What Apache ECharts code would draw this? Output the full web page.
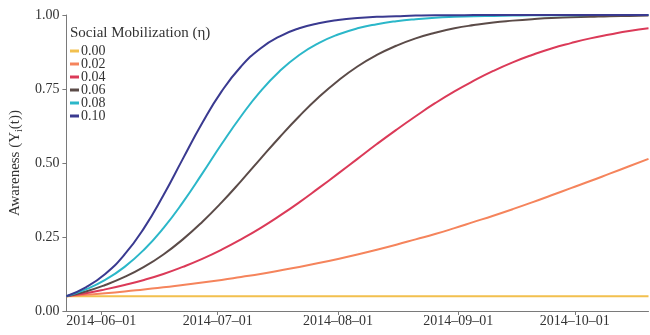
<!DOCTYPE html>
<html>
<head>
<meta charset="utf-8">
<script src="https://cdn.jsdelivr.net/npm/echarts@6/dist/echarts.min.js"></script>
<style>
  html, body { margin: 0; padding: 0; background: #fff; }
  #chart { width: 650px; height: 335px; }
</style>
</head>
<body>
<div id="chart"></div>
<script>
// Sample dates (every 5 days)
const dates = [
  '2014-05-23', '2014-05-28', '2014-06-02', '2014-06-07', '2014-06-12', '2014-06-17',
  '2014-06-22', '2014-06-27', '2014-07-02', '2014-07-07', '2014-07-12', '2014-07-17',
  '2014-07-22', '2014-07-27', '2014-08-01', '2014-08-06', '2014-08-11', '2014-08-16',
  '2014-08-21', '2014-08-26', '2014-08-31', '2014-09-05', '2014-09-10', '2014-09-15',
  '2014-09-20', '2014-09-25', '2014-09-30', '2014-10-05', '2014-10-10', '2014-10-15',
  '2014-10-20'
];

// Awareness per social mobilization level
const eta000 = [
  0.050, 0.050, 0.050, 0.050, 0.050, 0.050, 0.050, 0.050, 0.050, 0.050, 0.050,
  0.050, 0.050, 0.050, 0.050, 0.050, 0.050, 0.050, 0.050, 0.050, 0.050, 0.050,
  0.050, 0.050, 0.050, 0.050, 0.050, 0.050, 0.050, 0.050, 0.050
];
const eta002 = [
  0.050, 0.055, 0.060, 0.066, 0.073, 0.080, 0.088, 0.096, 0.105, 0.115, 0.125,
  0.137, 0.149, 0.162, 0.176, 0.191, 0.207, 0.224, 0.242, 0.260, 0.280, 0.301,
  0.322, 0.344, 0.367, 0.391, 0.415, 0.439, 0.464, 0.489, 0.514
];
const eta004 = [
  0.050, 0.060, 0.073, 0.088, 0.105, 0.125, 0.149, 0.176, 0.207, 0.242, 0.280,
  0.322, 0.367, 0.415, 0.464, 0.514, 0.564, 0.612, 0.658, 0.702, 0.742, 0.778,
  0.811, 0.840, 0.865, 0.887, 0.905, 0.921, 0.934, 0.946, 0.955
];
const eta006 = [
  0.050, 0.066, 0.088, 0.115, 0.149, 0.191, 0.242, 0.301, 0.367, 0.439, 0.514,
  0.588, 0.658, 0.722, 0.778, 0.826, 0.865, 0.896, 0.921, 0.940, 0.955, 0.966,
  0.975, 0.981, 0.986, 0.990, 0.992, 0.994, 0.996, 0.997, 0.998
];
const eta008 = [
  0.050, 0.073, 0.105, 0.149, 0.207, 0.280, 0.367, 0.464, 0.564, 0.658, 0.742,
  0.811, 0.865, 0.905, 0.934, 0.955, 0.969, 0.979, 0.986, 0.991, 0.994, 0.996,
  0.997, 0.998, 0.999, 0.999, 0.999, 1.000, 1.000, 1.000, 1.000
];
const eta010 = [
  0.050, 0.080, 0.125, 0.191, 0.280, 0.391, 0.514, 0.635, 0.742, 0.826, 0.887,
  0.928, 0.955, 0.972, 0.983, 0.990, 0.994, 0.996, 0.998, 0.999, 0.999, 1.000,
  1.000, 1.000, 1.000, 1.000, 1.000, 1.000, 1.000, 1.000, 1.000
];

const seriesNames = ['0.00', '0.02', '0.04', '0.06', '0.08', '0.10'];
const seriesValues = [eta000, eta002, eta004, eta006, eta008, eta010];
const seriesColors = ['#f2c04e', '#f5845c', '#db3a58', '#5b4b48', '#2bb7c9', '#3a3a90'];

// Axis tick positions (first of each month)
const xTicks = ['2014-06-01', '2014-07-01', '2014-08-01', '2014-09-01', '2014-10-01'];

const FONT = "'Liberation Serif', 'DejaVu Serif', serif";

function toTime(s) {
  const p = s.split('-').map(Number);
  return new Date(p[0], p[1] - 1, p[2]).getTime();
}
function pad(n) { return (n < 10 ? '0' : '') + n; }
function fmtDate(v) {
  const d = new Date(v);
  return d.getFullYear() + '\u2013' + pad(d.getMonth() + 1) + '\u2013' + pad(d.getDate());
}

const chart = echarts.init(document.getElementById('chart'), null, { renderer: 'canvas' });

const axisLineStyle = { color: '#7a7a7a', width: 1 };

chart.setOption({
  animation: false,
  backgroundColor: '#ffffff',
  textStyle: { fontFamily: FONT },
  title: {
    text: 'Social Mobilization (\u03b7)',
    left: 70,
    top: 26,
    padding: 0,
    textStyle: { fontFamily: FONT, fontSize: 15, fontWeight: 'normal', color: '#333' }
  },
  legend: {
    orient: 'vertical',
    left: 70,
    top: 44,
    padding: 0,
    icon: 'rect',
    itemWidth: 9,
    itemHeight: 3,
    itemGap: -1,
    textStyle: { fontFamily: FONT, fontSize: 14, color: '#333', lineHeight: 12, padding: [0, 0, 0, -3] },
    data: seriesNames
  },
  grid: { left: 62, right: 1.5, top: 15, bottom: 24, containLabel: false },
  xAxis: {
    type: 'value',
    min: toTime(dates[0]),
    max: toTime(dates[dates.length - 1]),
    splitLine: { show: false },
    axisLine: { lineStyle: axisLineStyle },
    axisTick: { show: true, length: 4, lineStyle: axisLineStyle, customValues: xTicks.map(toTime) },
    axisLabel: {
      customValues: xTicks.map(toTime),
      formatter: fmtDate,
      fontFamily: FONT,
      fontSize: 14,
      color: '#333',
      margin: 3
    }
  },
  yAxis: {
    type: 'value',
    min: 0,
    max: 1,
    interval: 0.25,
    name: '{a|Awareness (Y}{s|i}{a|(t))}',
    nameLocation: 'middle',
    nameGap: 40,
    nameTextStyle: {
      rich: {
        a: { fontFamily: FONT, fontSize: 15, color: '#333' },
        s: { fontFamily: FONT, fontSize: 10, color: '#333', verticalAlign: 'bottom', padding: [7, 0, 0, 0] }
      }
    },
    splitLine: { show: false },
    axisLine: { show: true, lineStyle: axisLineStyle },
    axisTick: { show: true, length: 4, lineStyle: axisLineStyle },
    axisLabel: {
      formatter: function (v) { return v.toFixed(2); },
      fontFamily: FONT,
      fontSize: 14,
      color: '#333',
      margin: 7
    }
  },
  series: seriesNames.map(function (name, i) {
    return {
      name: name,
      type: 'line',
      smooth: true,
      showSymbol: false,
      symbol: 'none',
      lineStyle: { width: 2, color: seriesColors[i] },
      itemStyle: { color: seriesColors[i] },
      data: dates.map(function (d, j) { return [toTime(d), seriesValues[i][j]]; })
    };
  })
});
</script>
</body>
</html>
